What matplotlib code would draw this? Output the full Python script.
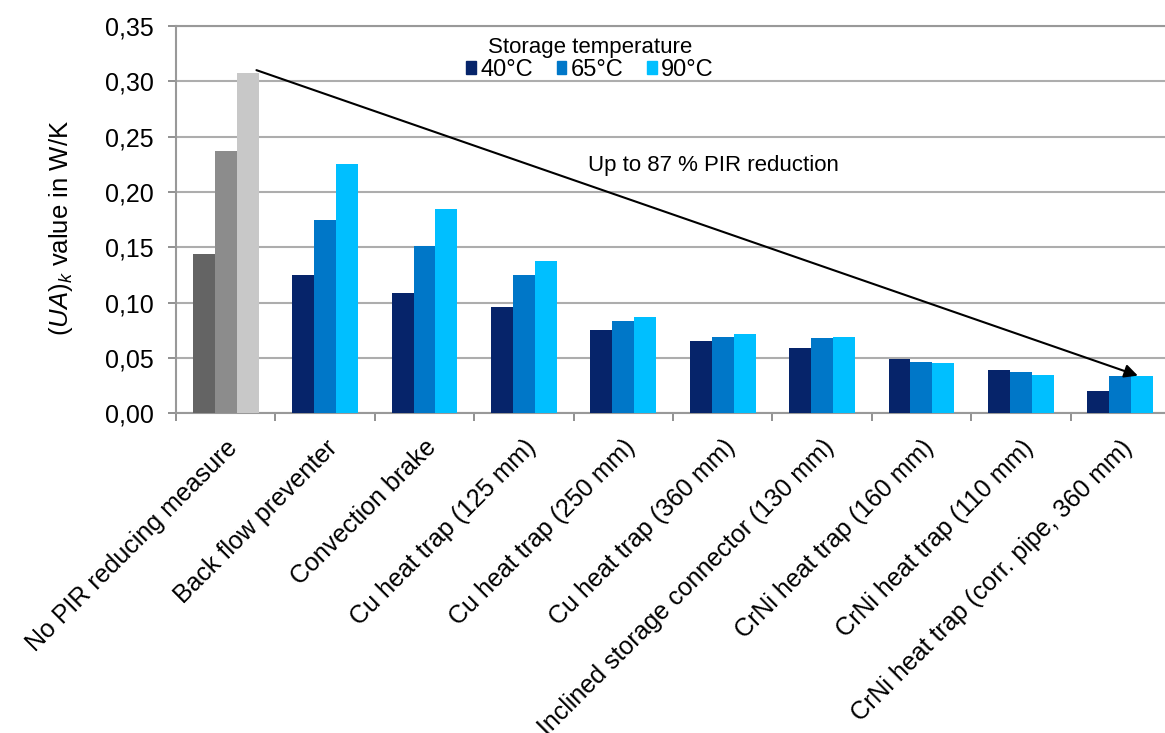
import numpy as np
import matplotlib
matplotlib.use("Agg")
import matplotlib.pyplot as plt
import matplotlib.transforms as mtransforms
from matplotlib.patches import Patch

plt.rcParams['font.family'] = ['Liberation Sans', 'DejaVu Sans']
plt.rcParams['mathtext.fontset'] = 'custom'
plt.rcParams['mathtext.rm'] = 'Liberation Sans'
plt.rcParams['mathtext.it'] = 'Liberation Sans:italic'

categories = ["No PIR reducing measure", "Back flow preventer", "Convection brake",
              "Cu heat trap (125 mm)", "Cu heat trap (250 mm)", "Cu heat trap (360 mm)",
              "Inclined storage connector (130 mm)", "CrNi heat trap (160 mm)",
              "CrNi heat trap (110 mm)", "CrNi heat trap (corr. pipe, 360 mm)"]
ua_40 = [0.144, 0.125, 0.109, 0.096, 0.075, 0.065, 0.059, 0.049, 0.039, 0.020]
ua_65 = [0.237, 0.175, 0.151, 0.125, 0.083, 0.069, 0.068, 0.046, 0.037, 0.034]
ua_90 = [0.307, 0.225, 0.185, 0.138, 0.087, 0.072, 0.069, 0.045, 0.035, 0.034]
series_labels = ["40°C", "65°C", "90°C"]
yticks = [0.0, 0.05, 0.10, 0.15, 0.20, 0.25, 0.30, 0.35]

blues = ['#06246a', '#0077c8', '#00bfff']
greys = ['#646464', '#8c8c8c', '#c8c8c8']

fig = plt.figure(figsize=(11.65, 7.33), dpi=100)
ax = fig.add_axes([176/1165, 0.4362, 989/1165, 0.5285])

x = np.arange(len(categories))
w = 0.221
for i, vals in enumerate([ua_40, ua_65, ua_90]):
    cols = [greys[i]] + [blues[i]] * (len(categories) - 1)
    ax.bar(x + (i - 1) * w, vals, w, color=cols, zorder=3)

ax.set_xlim(-0.5, 9.45)
ax.set_ylim(0, 0.35)
ax.set_yticks(yticks)
ax.set_yticklabels([f"{v:.2f}".replace('.', ',') for v in yticks], fontsize=18)
ax.grid(axis='y', color='#adadad', lw=1.5, zorder=0)

ax.set_xticks(x)
ax.set_xticklabels(categories, rotation=45, ha='right', va='top',
                   rotation_mode='anchor', fontsize=18)
shift = mtransforms.ScaledTranslation(-12/100, -2/100, fig.dpi_scale_trans)
for lab in ax.get_xticklabels():
    lab.set_transform(lab.get_transform() + shift)
ax.set_xticks(np.arange(len(categories)) - 0.5, minor=True)
ax.tick_params(axis='x', which='major', length=0, pad=16)
ax.tick_params(axis='x', which='minor', length=6, width=1.3, color='#888888')
ax.tick_params(axis='y', length=6, width=1.3, color='#888888', pad=10)

for s in ['left', 'bottom', 'top']:
    ax.spines[s].set_color('#999999')
    ax.spines[s].set_linewidth(1.5)
ax.spines['right'].set_visible(False)

ax.set_ylabel(r"$(\mathit{UA})_{\mathit{k}}$ value in W/K", fontsize=18.5)
ax.yaxis.set_label_coords(-0.102, 0.478)

handles = [Patch(color=c) for c in blues]
leg = fig.legend(handles, series_labels, title="Storage temperature", ncol=3,
                 loc='upper center', bbox_to_anchor=(590/1165, 1 - 25/733),
                 frameon=False, fontsize=17, title_fontsize=16,
                 handlelength=0.4, handleheight=0.45, handletextpad=0.2,
                 columnspacing=1.0, borderpad=0, labelspacing=0.05)

ax.annotate('', xy=(9 + 0.8 * w, ua_65[-1]), xytext=(1.4 * w, ua_90[0] + 0.003),
            arrowprops=dict(arrowstyle='-|>', color='black', lw=1.5,
                            mutation_scale=20, shrinkA=0, shrinkB=0), zorder=5)
ax.text(4.91, 0.224, "Up to 87 % PIR reduction", ha='center', va='center', fontsize=16)

fig.savefig("out.png", dpi=100)
